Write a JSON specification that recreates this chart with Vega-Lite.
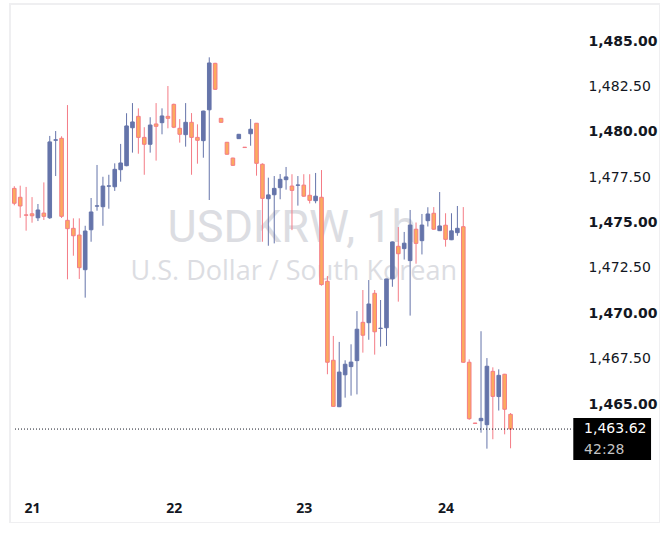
{
  "$schema": "https://vega.github.io/schema/vega-lite/v6.json",
  "width": 650,
  "height": 519,
  "autosize": {"type": "none"},
  "padding": {"left": 10, "top": 4, "right": 0, "bottom": 0},
  "background": "#ffffff",
  "view": {"stroke": "#efeff1", "strokeWidth": 2},
  "datasets": {
    "candles": [
      {"i": -1, "o": 1476.88, "h": 1477.00, "l": 1475.95, "c": 1476.06},
      {"i": 0, "o": 1476.39, "h": 1477.03, "l": 1475.26, "c": 1475.91},
      {"i": 1, "o": 1475.42, "h": 1476.96, "l": 1474.55, "c": 1475.40},
      {"i": 2, "o": 1475.48, "h": 1476.40, "l": 1474.99, "c": 1475.37},
      {"i": 3, "o": 1475.26, "h": 1476.02, "l": 1475.08, "c": 1475.69},
      {"i": 4, "o": 1475.52, "h": 1477.21, "l": 1475.14, "c": 1475.34},
      {"i": 5, "o": 1475.26, "h": 1479.77, "l": 1475.20, "c": 1479.44},
      {"i": 6, "o": 1479.53, "h": 1480.04, "l": 1477.56, "c": 1479.56},
      {"i": 7, "o": 1479.64, "h": 1479.75, "l": 1475.25, "c": 1475.34},
      {"i": 8, "o": 1475.12, "h": 1481.47, "l": 1471.87, "c": 1474.66},
      {"i": 9, "o": 1474.68, "h": 1475.23, "l": 1473.17, "c": 1474.27},
      {"i": 10, "o": 1474.31, "h": 1475.23, "l": 1471.89, "c": 1472.51},
      {"i": 11, "o": 1472.40, "h": 1474.82, "l": 1470.86, "c": 1474.53},
      {"i": 12, "o": 1474.60, "h": 1476.35, "l": 1473.94, "c": 1475.58},
      {"i": 13, "o": 1475.90, "h": 1478.17, "l": 1475.65, "c": 1475.92},
      {"i": 14, "o": 1475.87, "h": 1477.52, "l": 1474.82, "c": 1477.01},
      {"i": 15, "o": 1477.00, "h": 1477.63, "l": 1475.76, "c": 1477.02},
      {"i": 16, "o": 1476.97, "h": 1478.26, "l": 1476.74, "c": 1477.93},
      {"i": 17, "o": 1477.91, "h": 1479.33, "l": 1477.25, "c": 1478.28},
      {"i": 18, "o": 1478.13, "h": 1481.02, "l": 1478.10, "c": 1480.32},
      {"i": 19, "o": 1480.22, "h": 1481.58, "l": 1478.85, "c": 1480.54},
      {"i": 20, "o": 1480.85, "h": 1481.29, "l": 1478.79, "c": 1479.69},
      {"i": 21, "o": 1479.69, "h": 1480.25, "l": 1477.63, "c": 1479.31},
      {"i": 22, "o": 1479.31, "h": 1480.80, "l": 1478.85, "c": 1480.37},
      {"i": 23, "o": 1480.43, "h": 1481.58, "l": 1478.41, "c": 1480.30},
      {"i": 24, "o": 1480.50, "h": 1481.29, "l": 1479.86, "c": 1480.87},
      {"i": 25, "o": 1480.85, "h": 1482.52, "l": 1480.19, "c": 1480.74},
      {"i": 26, "o": 1481.51, "h": 1481.55, "l": 1480.20, "c": 1480.25},
      {"i": 27, "o": 1480.19, "h": 1480.70, "l": 1479.40, "c": 1479.86},
      {"i": 28, "o": 1479.84, "h": 1481.58, "l": 1479.18, "c": 1480.52},
      {"i": 29, "o": 1480.52, "h": 1481.03, "l": 1477.63, "c": 1479.69},
      {"i": 30, "o": 1479.69, "h": 1480.41, "l": 1478.24, "c": 1479.53},
      {"i": 31, "o": 1479.51, "h": 1481.16, "l": 1478.57, "c": 1481.14},
      {"i": 32, "o": 1481.21, "h": 1484.10, "l": 1476.24, "c": 1483.79},
      {"i": 33, "o": 1483.77, "h": 1483.80, "l": 1482.30, "c": 1482.34},
      {"i": 34, "o": 1480.74, "h": 1480.76, "l": 1480.50, "c": 1480.52},
      {"i": 35, "o": 1479.42, "h": 1479.44, "l": 1478.74, "c": 1478.76},
      {"i": 36, "o": 1478.55, "h": 1478.57, "l": 1478.13, "c": 1478.15},
      {"i": 37, "o": 1479.62, "h": 1479.88, "l": 1479.60, "c": 1479.86},
      {"i": 38, "o": 1479.15, "h": 1479.16, "l": 1479.12, "c": 1479.13},
      {"i": 39, "o": 1479.89, "h": 1480.70, "l": 1479.23, "c": 1480.14},
      {"i": 40, "o": 1480.47, "h": 1480.48, "l": 1477.58, "c": 1478.26},
      {"i": 41, "o": 1478.21, "h": 1478.26, "l": 1473.94, "c": 1476.33},
      {"i": 42, "o": 1476.31, "h": 1477.47, "l": 1473.72, "c": 1476.52},
      {"i": 43, "o": 1476.53, "h": 1477.56, "l": 1473.85, "c": 1476.88},
      {"i": 44, "o": 1476.92, "h": 1477.67, "l": 1476.28, "c": 1477.38},
      {"i": 45, "o": 1477.36, "h": 1478.06, "l": 1476.81, "c": 1477.51},
      {"i": 46, "o": 1477.01, "h": 1477.66, "l": 1474.58, "c": 1476.77},
      {"i": 47, "o": 1477.05, "h": 1477.56, "l": 1475.93, "c": 1477.07},
      {"i": 48, "o": 1477.06, "h": 1477.66, "l": 1476.42, "c": 1476.45},
      {"i": 49, "o": 1476.50, "h": 1477.66, "l": 1476.05, "c": 1476.22},
      {"i": 50, "o": 1476.20, "h": 1477.73, "l": 1476.06, "c": 1476.45},
      {"i": 51, "o": 1476.39, "h": 1477.89, "l": 1471.52, "c": 1471.58},
      {"i": 52, "o": 1471.76, "h": 1472.05, "l": 1466.64, "c": 1467.30},
      {"i": 53, "o": 1467.41, "h": 1468.75, "l": 1464.85, "c": 1464.87},
      {"i": 54, "o": 1464.85, "h": 1468.42, "l": 1464.83, "c": 1466.76},
      {"i": 55, "o": 1466.61, "h": 1467.41, "l": 1465.35, "c": 1467.19},
      {"i": 56, "o": 1467.06, "h": 1468.29, "l": 1465.46, "c": 1467.31},
      {"i": 57, "o": 1467.39, "h": 1470.12, "l": 1465.53, "c": 1469.12},
      {"i": 58, "o": 1469.50, "h": 1471.28, "l": 1467.83, "c": 1468.79},
      {"i": 59, "o": 1469.48, "h": 1471.83, "l": 1468.54, "c": 1470.51},
      {"i": 60, "o": 1471.10, "h": 1471.28, "l": 1467.72, "c": 1468.98},
      {"i": 61, "o": 1469.16, "h": 1470.73, "l": 1468.16, "c": 1469.18},
      {"i": 62, "o": 1469.20, "h": 1471.90, "l": 1468.20, "c": 1471.89},
      {"i": 63, "o": 1471.90, "h": 1473.95, "l": 1471.46, "c": 1473.93},
      {"i": 64, "o": 1473.69, "h": 1474.75, "l": 1470.64, "c": 1473.28},
      {"i": 65, "o": 1473.56, "h": 1474.48, "l": 1472.96, "c": 1473.86},
      {"i": 66, "o": 1472.90, "h": 1475.69, "l": 1469.87, "c": 1474.86},
      {"i": 67, "o": 1474.63, "h": 1475.00, "l": 1472.73, "c": 1473.85},
      {"i": 68, "o": 1474.00, "h": 1475.47, "l": 1473.24, "c": 1474.86},
      {"i": 69, "o": 1475.10, "h": 1475.84, "l": 1474.78, "c": 1475.47},
      {"i": 70, "o": 1475.51, "h": 1475.85, "l": 1474.60, "c": 1474.63},
      {"i": 71, "o": 1474.55, "h": 1476.68, "l": 1474.53, "c": 1474.81},
      {"i": 72, "o": 1474.85, "h": 1475.51, "l": 1473.67, "c": 1474.07},
      {"i": 73, "o": 1474.05, "h": 1475.51, "l": 1474.03, "c": 1474.54},
      {"i": 74, "o": 1474.44, "h": 1475.91, "l": 1474.27, "c": 1474.68},
      {"i": 75, "o": 1474.77, "h": 1475.85, "l": 1467.28, "c": 1467.30},
      {"i": 76, "o": 1467.30, "h": 1467.46, "l": 1464.13, "c": 1464.19},
      {"i": 77, "o": 1463.95, "h": 1463.96, "l": 1463.92, "c": 1463.93},
      {"i": 78, "o": 1464.08, "h": 1469.01, "l": 1463.42, "c": 1464.21},
      {"i": 79, "o": 1463.86, "h": 1467.53, "l": 1462.54, "c": 1467.08},
      {"i": 80, "o": 1466.80, "h": 1467.02, "l": 1463.06, "c": 1465.42},
      {"i": 81, "o": 1465.41, "h": 1466.91, "l": 1464.64, "c": 1466.58},
      {"i": 82, "o": 1466.64, "h": 1466.66, "l": 1463.33, "c": 1464.71},
      {"i": 83, "o": 1464.43, "h": 1464.50, "l": 1462.56, "c": 1463.62}
    ],
    "last": [{"close": 1463.62, "countdown": "42:28"}],
    "watermark": [{"symbol": "USDKRW, 1h", "name": "U.S. Dollar / South Korean"}]
  },
  "layer": [
    {
      "data": {"name": "watermark"},
      "mark": {"type": "text", "font": "Roboto", "fontSize": 45, "color": "#dcdde2", "align": "center", "baseline": "alphabetic"},
      "encoding": {
        "x": {"datum": 46.0, "type": "quantitative", "scale": {"domain": [-0.883, 107.45], "nice": false, "zero": false}},
        "y": {"datum": 1473.93, "type": "quantitative", "scale": {"domain": [1458.444, 1487.039], "nice": false, "zero": false}},
        "text": {"field": "symbol"}
      }
    },
    {
      "data": {"name": "watermark"},
      "mark": {"type": "text", "font": "Open Sans", "fontSize": 27, "color": "#dcdde2", "align": "center", "baseline": "alphabetic"},
      "encoding": {
        "x": {"datum": 46.3, "type": "quantitative"},
        "y": {"datum": 1471.83, "type": "quantitative"},
        "text": {"field": "name"}
      }
    },
    {
      "data": {"name": "candles"},
      "mark": {"type": "rule", "strokeWidth": 1, "clip": true},
      "encoding": {
        "x": {
          "field": "i", "type": "quantitative", "title": null,
          "scale": {"domain": [-0.883, 107.45], "nice": false, "zero": false},
          "axis": {
            "orient": "bottom", "title": null, "values": [2, 26, 48, 72],
            "labelExpr": "datum.value == 2 ? '21' : datum.value == 26 ? '22' : datum.value == 48 ? '23' : '24'",
            "domain": false, "ticks": false, "tickSize": 0, "grid": false,
            "labelPadding": -11, "labelBaseline": "alphabetic", "labelFlush": false, "labelOverlap": false,
            "labelFont": "Open Sans", "labelFontSize": 14, "labelFontWeight": "bold", "labelColor": "#131722"
          }
        },
        "y": {
          "field": "l", "type": "quantitative", "title": null,
          "scale": {"domain": [1458.444, 1487.039], "nice": false, "zero": false},
          "axis": {
            "orient": "right", "title": null,
            "values": [1465, 1467.5, 1470, 1472.5, 1475, 1477.5, 1480, 1482.5, 1485],
            "format": ",.2f", "domain": false, "ticks": false, "tickSize": 0, "grid": false,
            "labelPadding": -72, "labelAlign": "left", "labelBaseline": "middle", "labelFlush": false, "labelOverlap": false,
            "labelFont": "DejaVu Sans", "labelFontSize": 14, "labelColor": "#131722",
            "labelFontWeight": {"condition": {"test": "datum.value % 5 === 0", "value": "bold"}, "value": "normal"}
          }
        },
        "y2": {"field": "h"},
        "color": {"condition": {"test": "datum.c < datum.o", "value": "#f47c86"}, "value": "#6574aa"}
      }
    },
    {
      "data": {"name": "candles"},
      "mark": {"type": "bar", "width": 3.6, "strokeWidth": 1, "clip": true},
      "encoding": {
        "x": {"field": "i", "type": "quantitative", "title": null},
        "y": {"field": "o", "type": "quantitative", "title": null},
        "y2": {"field": "c"},
        "fill": {"condition": {"test": "datum.c < datum.o", "value": "#fcaa5e"}, "value": "#6574aa"},
        "stroke": {"condition": {"test": "datum.c < datum.o", "value": "#f47c86"}, "value": "#6574aa"}
      }
    },
    {
      "data": {"name": "last"},
      "mark": {"type": "rule", "strokeWidth": 1, "strokeDash": [1, 2], "color": "#131722", "clip": true},
      "encoding": {
        "x": {"datum": -0.883, "type": "quantitative"},
        "x2": {"datum": 93.62},
        "y": {"field": "close", "type": "quantitative", "title": null}
      }
    },
    {
      "data": {"name": "last"},
      "mark": {"type": "rect", "color": "#000000"},
      "encoding": {
        "x": {"datum": 93.62, "type": "quantitative"},
        "x2": {"datum": 106.78},
        "y": {"datum": 1464.23, "type": "quantitative"},
        "y2": {"datum": 1461.92}
      }
    },
    {
      "data": {"name": "last"},
      "mark": {"type": "text", "font": "DejaVu Sans", "fontSize": 14, "color": "#ffffff", "align": "left", "baseline": "middle"},
      "encoding": {
        "x": {"datum": 95.45, "type": "quantitative"},
        "y": {"field": "close", "type": "quantitative", "title": null},
        "text": {"field": "close", "type": "quantitative", "format": ",.2f"}
      }
    },
    {
      "data": {"name": "last"},
      "mark": {"type": "text", "font": "DejaVu Sans", "fontSize": 14, "color": "#c4c4c4", "align": "left", "baseline": "middle"},
      "encoding": {
        "x": {"datum": 95.45, "type": "quantitative"},
        "y": {"datum": 1462.47, "type": "quantitative"},
        "text": {"field": "countdown"}
      }
    }
  ]
}
